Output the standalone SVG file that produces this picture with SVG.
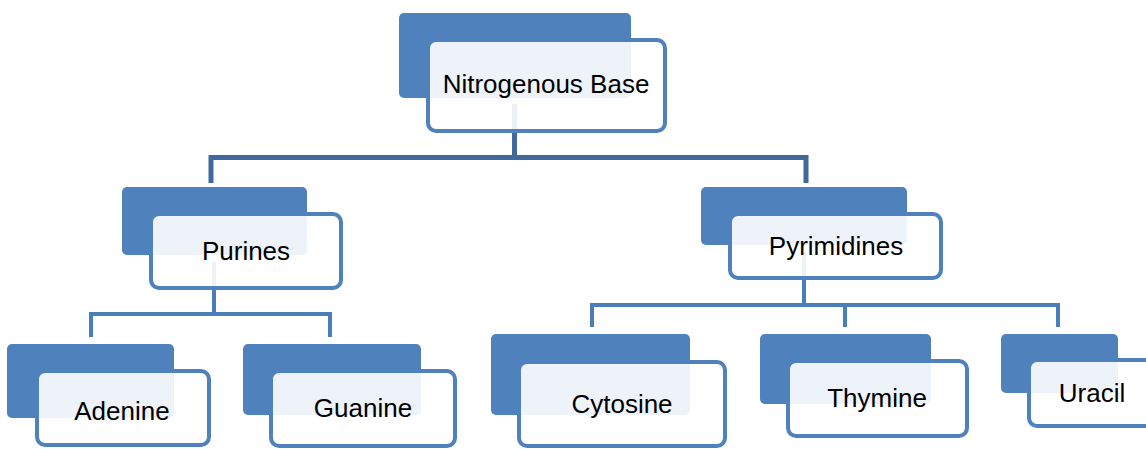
<svg xmlns="http://www.w3.org/2000/svg" width="1146" height="449" viewBox="0 0 1146 449">
<style>
.back{fill:#4F81BD;}
.front{fill:#FFFFFF;fill-opacity:0.9;stroke:#4F81BD;stroke-width:4;}
.lbl{font-family:"Liberation Sans",Arial,sans-serif;font-size:26px;fill:#000;text-anchor:middle;}
.c1{fill:none;stroke:#41699C;stroke-width:5;}
.c2{fill:none;stroke:#4A7EBB;stroke-width:4;}
</style>
<rect width="1146" height="449" fill="#FFFFFF"/>
<g id="connectors">
<path class="c1" d="M514.5,104 V157.5 M211,157.5 H806 M211,155 V183 M806,155 V183"/>
<path class="c2" d="M214,262 V314 M89,314 H332 M91,312 V337 M330,312 V337"/>
<path class="c2" d="M804,252 V305 M590,305 H1060 M592,303 V327 M845,303 V327 M1058,303 V327"/>
</g>
<g id="node-nitrogenous-base">
<rect class="back" x="399" y="13" width="232" height="85" rx="5"/>
<rect class="front" x="428" y="40" width="237" height="91" rx="8"/>
<text class="lbl" x="546" y="93">Nitrogenous Base</text>
</g>
<g id="node-purines">
<rect class="back" x="122" y="187" width="185" height="68" rx="5"/>
<rect class="front" x="151" y="214" width="190" height="74" rx="8"/>
<text class="lbl" x="246" y="260">Purines</text>
</g>
<g id="node-pyrimidines">
<rect class="back" x="701" y="187" width="206" height="58" rx="5"/>
<rect class="front" x="730" y="214" width="211" height="64" rx="8"/>
<text class="lbl" x="836" y="255">Pyrimidines</text>
</g>
<g id="node-adenine">
<rect class="back" x="7" y="344" width="167" height="74" rx="5"/>
<rect class="front" x="37" y="371" width="172" height="74" rx="8"/>
<text class="lbl" x="122" y="420">Adenine</text>
</g>
<g id="node-guanine">
<rect class="back" x="243" y="344" width="178" height="71" rx="5"/>
<rect class="front" x="271" y="371" width="184" height="75" rx="8"/>
<text class="lbl" x="363" y="417">Guanine</text>
</g>
<g id="node-cytosine">
<rect class="back" x="491" y="334" width="199" height="81" rx="5"/>
<rect class="front" x="519" y="362" width="206" height="84" rx="8"/>
<text class="lbl" x="622" y="413">Cytosine</text>
</g>
<g id="node-thymine">
<rect class="back" x="760" y="334" width="171" height="70" rx="5"/>
<rect class="front" x="788" y="361" width="179" height="75" rx="8"/>
<text class="lbl" x="877" y="407">Thymine</text>
</g>
<g id="node-uracil">
<rect class="back" x="1001" y="334" width="117" height="59" rx="5"/>
<rect class="front" x="1029" y="360" width="130" height="66" rx="8"/>
<text class="lbl" x="1092" y="402">Uracil</text>
</g>
</svg>
